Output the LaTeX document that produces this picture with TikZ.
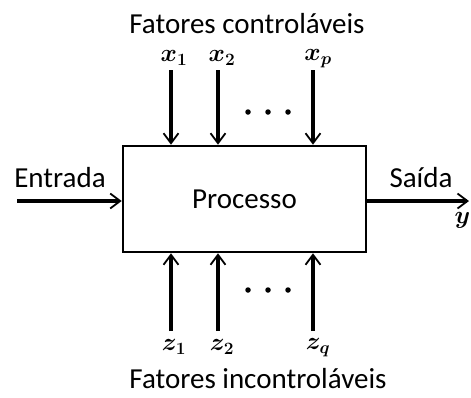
\documentclass[tikz,border=0pt]{standalone}
\usepackage{fontspec}
\setmainfont{Carlito}
\usetikzlibrary{arrows.meta}
\begin{document}
\begin{tikzpicture}[x=1pt,y=-1pt,
  lbl/.style={font=\fontsize{29}{33}\selectfont, inner sep=0pt},
  mlbl/.style={font=\fontsize{24}{27}\selectfont\boldmath, inner sep=0pt},
  flow/.style={line width=3.4pt, -{Straight Barb[length=10pt,width=15pt,line width=1.8pt]}},
  dotm/.style={circle, fill=black, inner sep=0pt, minimum size=5.5pt}]
\useasboundingbox (0,0) rectangle (471,397);
\node[draw, line width=2.6pt, minimum width=243pt, minimum height=106pt, inner sep=0pt,
      font=\fontsize{29}{33}\selectfont] (proc) at (244.5,199) {Processo};
\node[lbl] (ctl) at (247,24) {Fatores controláveis};
\node[lbl] (unc) at (258,379) {Fatores incontroláveis};
% top inputs
\node[mlbl] (x1) at (174,58) {$x_1$};
\node[mlbl] (x2) at (222,58) {$x_2$};
\node[mlbl] (xp) at (318,59) {$x_p$};
\coordinate (tx1) at (171,70);
\coordinate (tx2) at (218,70);
\coordinate (txp) at (313,70);
\draw[flow] (tx1) -- (tx1 |- proc.north);
\draw[flow] (tx2) -- (tx2 |- proc.north);
\draw[flow] (txp) -- (txp |- proc.north);
\node[dotm] (d1) at (248,112) {};
\node[dotm] (d2) at (268,112) {};
\node[dotm] (d3) at (288,112) {};
% bottom inputs
\node[mlbl] (z1) at (174,347) {$z_1$};
\node[mlbl] (z2) at (222,347) {$z_2$};
\node[mlbl] (zq) at (318,348) {$z_q$};
\coordinate (bz1) at (171,331);
\coordinate (bz2) at (218,331);
\coordinate (bzq) at (313,331);
\draw[flow] (bz1) -- (bz1 |- proc.south);
\draw[flow] (bz2) -- (bz2 |- proc.south);
\draw[flow] (bzq) -- (bzq |- proc.south);
\node[dotm] (e1) at (248,290) {};
\node[dotm] (e2) at (268,290) {};
\node[dotm] (e3) at (288,290) {};
% input / output
\node[lbl] (in) at (60,178) {Entrada};
\node[lbl] (out) at (421,178) {Saída};
\coordinate (ins) at (17,201);
\coordinate (oute) at (469,201);
\draw[flow] (ins) -- (ins -| proc.west);
\draw[flow] (proc.east |- oute) -- (oute);
\node[mlbl, anchor=east] (y) at (470.5,220) {$y$};
\end{tikzpicture}
\end{document}
